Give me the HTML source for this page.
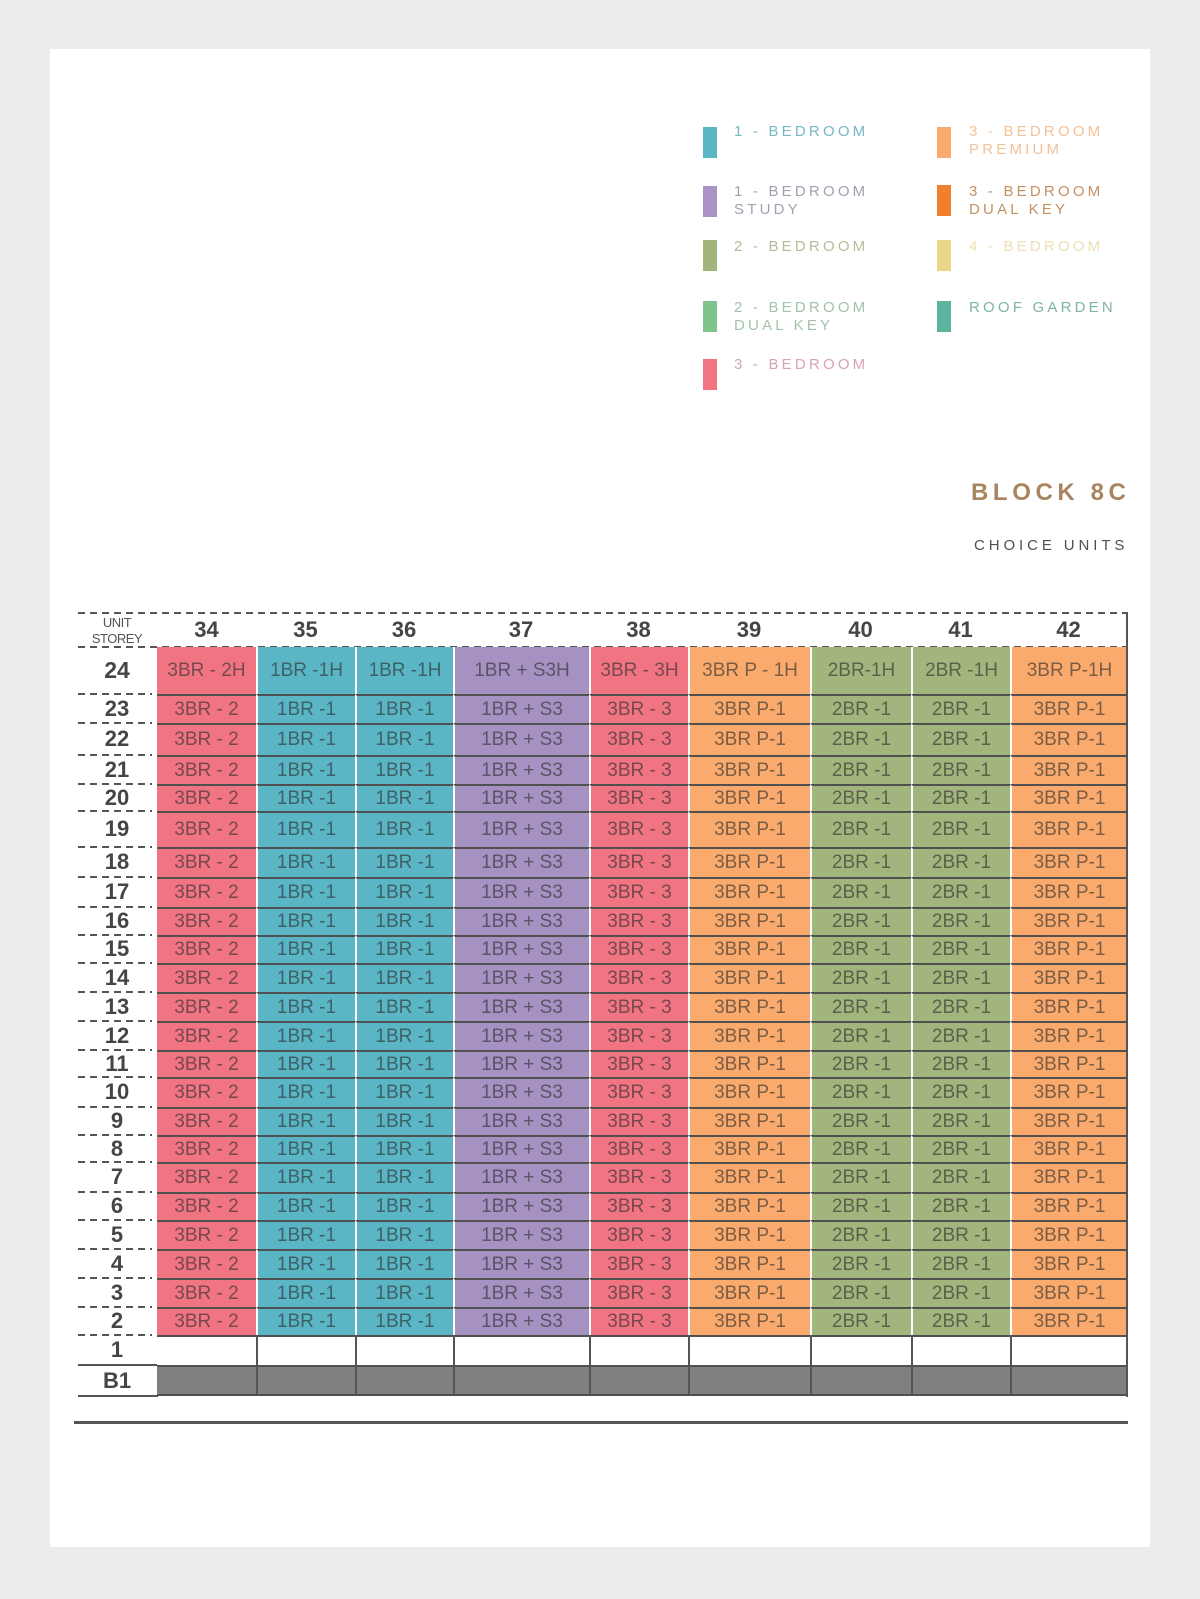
<!DOCTYPE html>
<html><head><meta charset="utf-8">
<style>
html,body{margin:0;padding:0;}
body{width:1200px;height:1599px;background:#ececec;position:relative;overflow:hidden;font-family:"Liberation Sans",Arial,sans-serif;}
.panel{position:absolute;left:50px;top:49px;width:1100px;height:1498px;background:#fff;}
.a{position:absolute;}
.sw{position:absolute;width:14px;height:31px;}
.lt{position:absolute;font-size:15px;line-height:18px;letter-spacing:3.2px;white-space:nowrap;}
.dash{position:absolute;height:2px;background:repeating-linear-gradient(90deg,#555 0 7px,transparent 7px 12px);}
.sol{position:absolute;height:2px;background:#555;}
.hn{position:absolute;top:613px;height:34px;line-height:34px;text-align:center;font-weight:bold;font-size:22px;color:#444;}
.rl{position:absolute;left:78px;width:78px;text-align:center;font-weight:bold;font-size:22px;color:#454545;display:flex;align-items:center;justify-content:center;}
.g{position:absolute;left:157px;top:647px;width:970px;display:grid;
grid-template-columns:99px 99px 98px 136px 99px 122px 101px 99px 117px;
grid-template-rows:47px 29px 32px 29px 27px 36px 30px 30px 28px 28px 29px 29px 29px 27px 30px 28px 27px 30px 28px 29px 29px 29px 28px 30px 31px;}
.g>div{box-sizing:border-box;display:flex;align-items:center;justify-content:center;font-size:19px;color:rgba(45,45,45,0.62);white-space:nowrap;}
.g>div:nth-child(9n+1),.g>div:nth-child(9n+5){background:#f07482;}
.g>div:nth-child(9n+2),.g>div:nth-child(9n+3){background:#5ab5c5;}
.g>div:nth-child(9n+4){background:#a691c3;}
.g>div:nth-child(9n+6),.g>div:nth-child(9n+9){background:#f9aa6c;}
.g>div:nth-child(9n+7),.g>div:nth-child(9n+8){background:#a2b57c;}
.g>div:nth-child(n+10){border-top:2px solid #505050;}
.g>div:not(:nth-child(9n+1)){border-left:2px solid #fff;}
.g>div.w{background:#fff !important;}
.g>div.b{background:#808080 !important;border-bottom:2px solid #505050;}
.g>div.w:not(:nth-child(9n+1)),.g>div.b:not(:nth-child(9n+1)){border-left:2px solid #555;}
</style></head><body>
<div class="panel"></div>

<!-- Legend -->
<div class="sw" style="left:703px;top:127px;background:#5ab5c5"></div>
<div class="lt" style="left:734px;top:123px;color:#78b6c4">1 - BEDROOM</div>
<div class="sw" style="left:703px;top:186px;background:#a893c4"></div>
<div class="lt" style="left:734px;top:183px;color:#a49fb0">1 - BEDROOM<br>STUDY</div>
<div class="sw" style="left:703px;top:240px;background:#a2b57c"></div>
<div class="lt" style="left:734px;top:238px;color:#b6bc9a">2 - BEDROOM</div>
<div class="sw" style="left:703px;top:301px;background:#7fc48a"></div>
<div class="lt" style="left:734px;top:299px;color:#a3c2aa">2 - BEDROOM<br>DUAL KEY</div>
<div class="sw" style="left:703px;top:359px;background:#f07482"></div>
<div class="lt" style="left:734px;top:356px;color:#d8a3b0">3 - BEDROOM</div>

<div class="sw" style="left:937px;top:127px;background:#f9aa6c"></div>
<div class="lt" style="left:969px;top:123px;color:#f1c29a">3 - BEDROOM<br>PREMIUM</div>
<div class="sw" style="left:937px;top:185px;background:#f07f2e"></div>
<div class="lt" style="left:969px;top:183px;color:#c49060">3 - BEDROOM<br>DUAL KEY</div>
<div class="sw" style="left:937px;top:240px;background:#ead58a"></div>
<div class="lt" style="left:969px;top:238px;color:#ede0b3">4 - BEDROOM</div>
<div class="sw" style="left:937px;top:301px;background:#5bb49b"></div>
<div class="lt" style="left:969px;top:299px;color:#7fb3a6">ROOF GARDEN</div>

<div class="a" style="left:971px;top:481px;font-size:24px;line-height:24px;font-weight:bold;letter-spacing:4.6px;color:#a8855f;white-space:nowrap">BLOCK 8C</div>
<div class="a" style="left:974px;top:537px;font-size:15px;line-height:18px;letter-spacing:3.9px;color:#505050;white-space:nowrap">CHOICE UNITS</div>

<!-- Header -->
<div class="dash" style="left:78px;top:612px;width:1049px"></div>
<div class="dash" style="left:78px;top:646px;width:1049px"></div>
<div class="a" style="left:78px;top:615px;width:78px;text-align:center;font-size:13px;line-height:16px;letter-spacing:-0.5px;color:#555">UNIT<br>STOREY</div>
<div class="hn" style="left:157px;width:99px">34</div>
<div class="hn" style="left:256px;width:99px">35</div>
<div class="hn" style="left:355px;width:98px">36</div>
<div class="hn" style="left:453px;width:136px">37</div>
<div class="hn" style="left:589px;width:99px">38</div>
<div class="hn" style="left:688px;width:122px">39</div>
<div class="hn" style="left:810px;width:101px">40</div>
<div class="hn" style="left:911px;width:99px">41</div>
<div class="hn" style="left:1010px;width:117px">42</div>

<!-- Row labels -->
<div class="rl" style="top:647px;height:47px;font-size:23px">24</div>
<div class="rl" style="top:694px;height:29px">23</div>
<div class="rl" style="top:723px;height:32px">22</div>
<div class="rl" style="top:755px;height:29px">21</div>
<div class="rl" style="top:784px;height:27px">20</div>
<div class="rl" style="top:811px;height:36px">19</div>
<div class="rl" style="top:847px;height:30px">18</div>
<div class="rl" style="top:877px;height:30px">17</div>
<div class="rl" style="top:907px;height:28px">16</div>
<div class="rl" style="top:935px;height:28px">15</div>
<div class="rl" style="top:963px;height:29px">14</div>
<div class="rl" style="top:992px;height:29px">13</div>
<div class="rl" style="top:1021px;height:29px">12</div>
<div class="rl" style="top:1050px;height:27px">11</div>
<div class="rl" style="top:1077px;height:30px">10</div>
<div class="rl" style="top:1107px;height:28px">9</div>
<div class="rl" style="top:1135px;height:27px">8</div>
<div class="rl" style="top:1162px;height:30px">7</div>
<div class="rl" style="top:1192px;height:28px">6</div>
<div class="rl" style="top:1220px;height:29px">5</div>
<div class="rl" style="top:1249px;height:29px">4</div>
<div class="rl" style="top:1278px;height:29px">3</div>
<div class="rl" style="top:1307px;height:28px">2</div>
<div class="rl" style="top:1335px;height:30px">1</div>
<div class="rl" style="top:1365px;height:31px">B1</div>

<div class="dash" style="left:78px;top:693px;width:74px"></div>
<div class="dash" style="left:78px;top:722px;width:74px"></div>
<div class="dash" style="left:78px;top:754px;width:74px"></div>
<div class="dash" style="left:78px;top:783px;width:74px"></div>
<div class="dash" style="left:78px;top:810px;width:74px"></div>
<div class="dash" style="left:78px;top:846px;width:74px"></div>
<div class="dash" style="left:78px;top:876px;width:74px"></div>
<div class="dash" style="left:78px;top:906px;width:74px"></div>
<div class="dash" style="left:78px;top:934px;width:74px"></div>
<div class="dash" style="left:78px;top:962px;width:74px"></div>
<div class="dash" style="left:78px;top:991px;width:74px"></div>
<div class="dash" style="left:78px;top:1020px;width:74px"></div>
<div class="dash" style="left:78px;top:1049px;width:74px"></div>
<div class="dash" style="left:78px;top:1076px;width:74px"></div>
<div class="dash" style="left:78px;top:1106px;width:74px"></div>
<div class="dash" style="left:78px;top:1134px;width:74px"></div>
<div class="dash" style="left:78px;top:1161px;width:74px"></div>
<div class="dash" style="left:78px;top:1191px;width:74px"></div>
<div class="dash" style="left:78px;top:1219px;width:74px"></div>
<div class="dash" style="left:78px;top:1248px;width:74px"></div>
<div class="dash" style="left:78px;top:1277px;width:74px"></div>
<div class="dash" style="left:78px;top:1306px;width:74px"></div>
<div class="dash" style="left:78px;top:1334px;width:74px"></div>
<div class="sol" style="left:78px;top:1364px;width:80px"></div>
<div class="sol" style="left:78px;top:1395px;width:80px"></div>

<!-- Grid -->
<div class="g">
<div>3BR - 2H</div><div>1BR -1H</div><div>1BR -1H</div><div>1BR + S3H</div><div>3BR - 3H</div><div>3BR P - 1H</div><div>2BR-1H</div><div>2BR -1H</div><div>3BR P-1H</div>
<div>3BR - 2</div><div>1BR -1</div><div>1BR -1</div><div>1BR + S3</div><div>3BR - 3</div><div>3BR P-1</div><div>2BR -1</div><div>2BR -1</div><div>3BR P-1</div>
<div>3BR - 2</div><div>1BR -1</div><div>1BR -1</div><div>1BR + S3</div><div>3BR - 3</div><div>3BR P-1</div><div>2BR -1</div><div>2BR -1</div><div>3BR P-1</div>
<div>3BR - 2</div><div>1BR -1</div><div>1BR -1</div><div>1BR + S3</div><div>3BR - 3</div><div>3BR P-1</div><div>2BR -1</div><div>2BR -1</div><div>3BR P-1</div>
<div>3BR - 2</div><div>1BR -1</div><div>1BR -1</div><div>1BR + S3</div><div>3BR - 3</div><div>3BR P-1</div><div>2BR -1</div><div>2BR -1</div><div>3BR P-1</div>
<div>3BR - 2</div><div>1BR -1</div><div>1BR -1</div><div>1BR + S3</div><div>3BR - 3</div><div>3BR P-1</div><div>2BR -1</div><div>2BR -1</div><div>3BR P-1</div>
<div>3BR - 2</div><div>1BR -1</div><div>1BR -1</div><div>1BR + S3</div><div>3BR - 3</div><div>3BR P-1</div><div>2BR -1</div><div>2BR -1</div><div>3BR P-1</div>
<div>3BR - 2</div><div>1BR -1</div><div>1BR -1</div><div>1BR + S3</div><div>3BR - 3</div><div>3BR P-1</div><div>2BR -1</div><div>2BR -1</div><div>3BR P-1</div>
<div>3BR - 2</div><div>1BR -1</div><div>1BR -1</div><div>1BR + S3</div><div>3BR - 3</div><div>3BR P-1</div><div>2BR -1</div><div>2BR -1</div><div>3BR P-1</div>
<div>3BR - 2</div><div>1BR -1</div><div>1BR -1</div><div>1BR + S3</div><div>3BR - 3</div><div>3BR P-1</div><div>2BR -1</div><div>2BR -1</div><div>3BR P-1</div>
<div>3BR - 2</div><div>1BR -1</div><div>1BR -1</div><div>1BR + S3</div><div>3BR - 3</div><div>3BR P-1</div><div>2BR -1</div><div>2BR -1</div><div>3BR P-1</div>
<div>3BR - 2</div><div>1BR -1</div><div>1BR -1</div><div>1BR + S3</div><div>3BR - 3</div><div>3BR P-1</div><div>2BR -1</div><div>2BR -1</div><div>3BR P-1</div>
<div>3BR - 2</div><div>1BR -1</div><div>1BR -1</div><div>1BR + S3</div><div>3BR - 3</div><div>3BR P-1</div><div>2BR -1</div><div>2BR -1</div><div>3BR P-1</div>
<div>3BR - 2</div><div>1BR -1</div><div>1BR -1</div><div>1BR + S3</div><div>3BR - 3</div><div>3BR P-1</div><div>2BR -1</div><div>2BR -1</div><div>3BR P-1</div>
<div>3BR - 2</div><div>1BR -1</div><div>1BR -1</div><div>1BR + S3</div><div>3BR - 3</div><div>3BR P-1</div><div>2BR -1</div><div>2BR -1</div><div>3BR P-1</div>
<div>3BR - 2</div><div>1BR -1</div><div>1BR -1</div><div>1BR + S3</div><div>3BR - 3</div><div>3BR P-1</div><div>2BR -1</div><div>2BR -1</div><div>3BR P-1</div>
<div>3BR - 2</div><div>1BR -1</div><div>1BR -1</div><div>1BR + S3</div><div>3BR - 3</div><div>3BR P-1</div><div>2BR -1</div><div>2BR -1</div><div>3BR P-1</div>
<div>3BR - 2</div><div>1BR -1</div><div>1BR -1</div><div>1BR + S3</div><div>3BR - 3</div><div>3BR P-1</div><div>2BR -1</div><div>2BR -1</div><div>3BR P-1</div>
<div>3BR - 2</div><div>1BR -1</div><div>1BR -1</div><div>1BR + S3</div><div>3BR - 3</div><div>3BR P-1</div><div>2BR -1</div><div>2BR -1</div><div>3BR P-1</div>
<div>3BR - 2</div><div>1BR -1</div><div>1BR -1</div><div>1BR + S3</div><div>3BR - 3</div><div>3BR P-1</div><div>2BR -1</div><div>2BR -1</div><div>3BR P-1</div>
<div>3BR - 2</div><div>1BR -1</div><div>1BR -1</div><div>1BR + S3</div><div>3BR - 3</div><div>3BR P-1</div><div>2BR -1</div><div>2BR -1</div><div>3BR P-1</div>
<div>3BR - 2</div><div>1BR -1</div><div>1BR -1</div><div>1BR + S3</div><div>3BR - 3</div><div>3BR P-1</div><div>2BR -1</div><div>2BR -1</div><div>3BR P-1</div>
<div>3BR - 2</div><div>1BR -1</div><div>1BR -1</div><div>1BR + S3</div><div>3BR - 3</div><div>3BR P-1</div><div>2BR -1</div><div>2BR -1</div><div>3BR P-1</div>
<div class="w"></div><div class="w"></div><div class="w"></div><div class="w"></div><div class="w"></div><div class="w"></div><div class="w"></div><div class="w"></div><div class="w"></div>
<div class="b"></div><div class="b"></div><div class="b"></div><div class="b"></div><div class="b"></div><div class="b"></div><div class="b"></div><div class="b"></div><div class="b"></div>
</div>

<!-- right border & bottom line -->
<div class="a" style="left:1126px;top:612px;width:2px;height:785px;background:#555"></div>
<div class="a" style="left:74px;top:1421px;width:1054px;height:3px;background:#555"></div>
</body></html>
